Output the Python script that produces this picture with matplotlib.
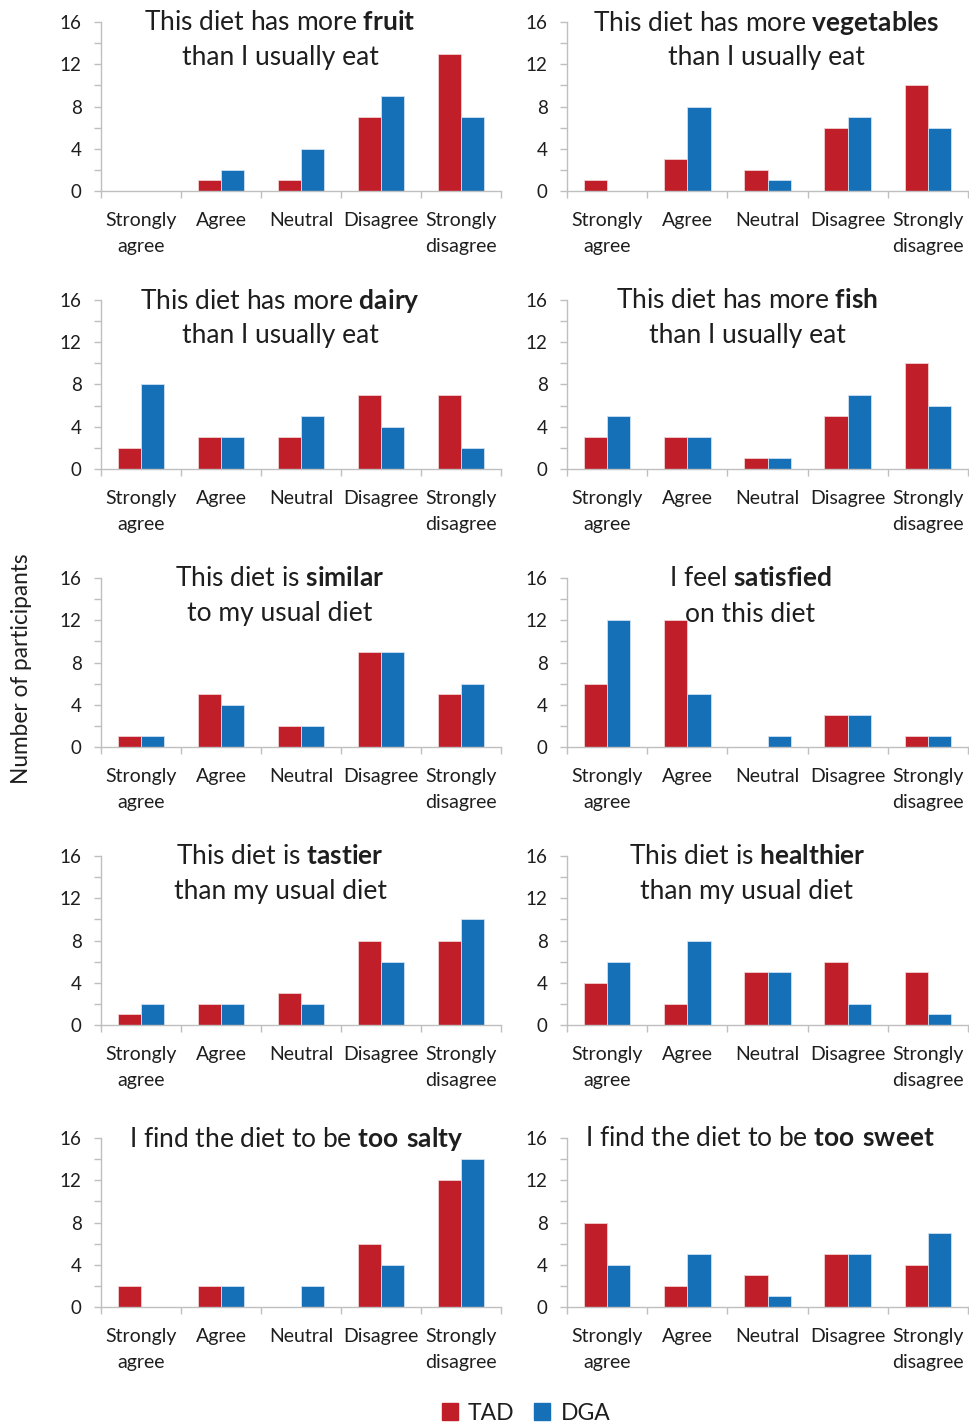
import numpy as np
import matplotlib
matplotlib.use('Agg')
import matplotlib.pyplot as plt
from matplotlib.patches import Patch

plt.rcParams['font.family'] = ['Lato', 'DejaVu Sans']
plt.rcParams['mathtext.fontset'] = 'custom'
plt.rcParams['mathtext.rm'] = 'Lato'
plt.rcParams['mathtext.bf'] = 'Lato:bold'

# categories and series
categories = ['Strongly\nagree', 'Agree', 'Neutral', 'Disagree', 'Strongly\ndisagree']
series_names = ['TAD', 'DGA']

titles = [
    ('This diet has more $\\bf{fruit}$', 'than I usually eat'),
    ('This diet has more $\\bf{vegetables}$', 'than I usually eat'),
    ('This diet has more $\\bf{dairy}$', 'than I usually eat'),
    ('This diet has more $\\bf{fish}$', 'than I usually eat'),
    ('This diet is $\\bf{similar}$', 'to my usual diet'),
    ('I feel $\\bf{satisfied}$', 'on this diet'),
    ('This diet is $\\bf{tastier}$', 'than my usual diet'),
    ('This diet is $\\bf{healthier}$', 'than my usual diet'),
    ('I find the diet to be $\\bf{too\\ salty}$', ''),
    ('I find the diet to be $\\bf{too\\ sweet}$', ''),
]

tad = [
    [0, 1, 1, 7, 13],
    [1, 3, 2, 6, 10],
    [2, 3, 3, 7, 7],
    [3, 3, 1, 5, 10],
    [1, 5, 2, 9, 5],
    [6, 12, 0, 3, 1],
    [1, 2, 3, 8, 8],
    [4, 2, 5, 6, 5],
    [2, 2, 0, 6, 12],
    [8, 2, 3, 5, 4],
]
dga = [
    [0, 2, 4, 9, 7],
    [0, 8, 1, 7, 6],
    [8, 3, 5, 4, 2],
    [5, 3, 1, 7, 6],
    [1, 4, 2, 9, 6],
    [12, 5, 1, 3, 1],
    [2, 2, 2, 6, 10],
    [6, 8, 5, 2, 1],
    [0, 2, 2, 4, 14],
    [4, 5, 1, 5, 7],
]

red = '#C01F2A'
blue = '#1570B8'
gray = '#BFBFBF'
txt = '#1E1E1E'

W, H = 969, 1424
fig = plt.figure(figsize=(W / 100, H / 100), dpi=100)

col_x = [(101, 501), (567, 968)]
row_top = [22, 300, 578, 856, 1138]
ax_h = 169
title_x = [280, 766, 280, 747, 280, 750, 280, 747, 296, 760]

x = np.arange(len(categories))
w = 0.29

for k in range(10):
    r, c = divmod(k, 2)
    x0, x1 = col_x[c]
    top = row_top[r]
    ax = fig.add_axes([x0 / W, 1 - (top + ax_h) / H, (x1 - x0) / W, ax_h / H])
    ax.bar(x - w / 2, tad[k], w, color=red, edgecolor='#F2D0D2', linewidth=0.6)
    ax.bar(x + w / 2, dga[k], w, color=blue, edgecolor='#CFE2F2', linewidth=0.6)
    ax.set_xlim(-0.5, 4.5)
    ax.set_ylim(0, 16)
    for s in ['top', 'right']:
        ax.spines[s].set_visible(False)
    for s in ['left', 'bottom']:
        ax.spines[s].set_color(gray)
        ax.spines[s].set_linewidth(1)
    ax.set_yticks([0, 4, 8, 12, 16])
    ax.set_yticks([2, 6, 10, 14], minor=True)
    ax.tick_params(axis='y', which='both', direction='out', length=5, width=1,
                   color=gray, labelsize=13.5, labelcolor=txt, pad=9)
    ax.set_xticks(np.arange(-0.5, 5, 1))
    ax.set_xticklabels([])
    ax.set_xticks(x, minor=True)
    ax.set_xticklabels(categories, minor=True, linespacing=1.62)
    ax.tick_params(axis='x', which='major', direction='out', length=5, width=1, color=gray)
    ax.tick_params(axis='x', which='minor', length=0, labelsize=14, labelcolor=txt, pad=15)
    ax.set_axisbelow(True)

    l1, l2 = titles[k]
    fig.text(title_x[k] / W, 1 - (top + 1) / H, l1, ha='center', va='center',
             fontsize=19, color=txt)
    if l2:
        fig.text(title_x[k] / W, 1 - (top + 36) / H, l2, ha='center', va='center',
                 fontsize=19, color=txt)

fig.text(22 / W, 1 - 669 / H, 'Number of participants', rotation=90,
         ha='center', va='center', fontsize=16.3, color=txt)

handles = [Patch(color=red, label=series_names[0]), Patch(color=blue, label=series_names[1])]
fig.legend(handles=handles, loc='center', bbox_to_anchor=(526 / W, 1 - 1413 / H), ncol=2,
           frameon=False, fontsize=16.5, handlelength=0.7, handleheight=0.7,
           handletextpad=0.45, columnspacing=0.85, labelcolor=txt)

fig.savefig('out.png', dpi=100)
